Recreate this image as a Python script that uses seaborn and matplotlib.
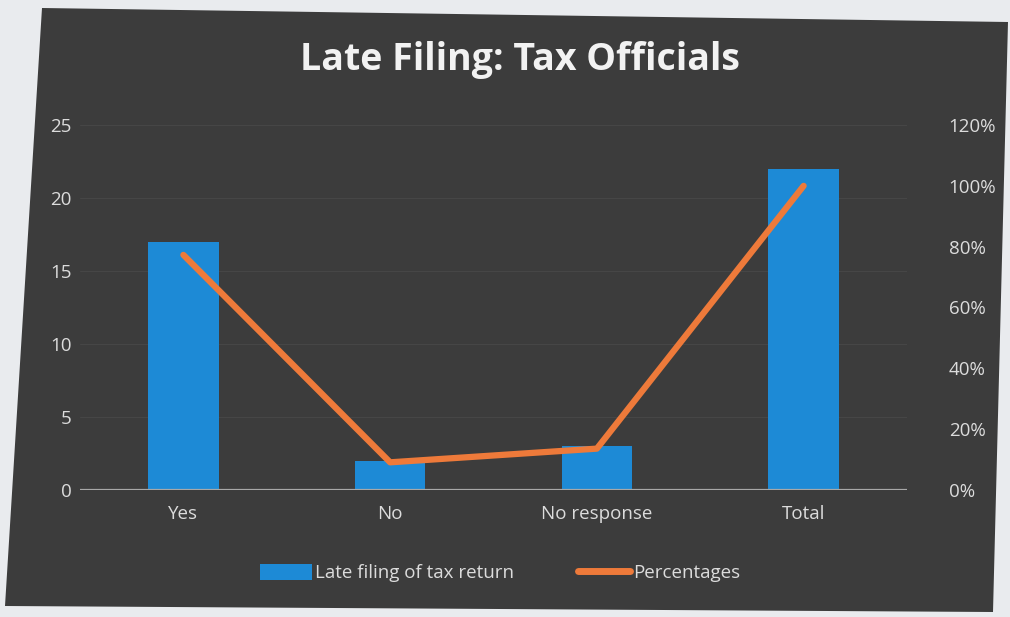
import numpy as np
import pandas as pd
import seaborn as sns
import matplotlib.pyplot as plt
from matplotlib.patches import Polygon, Patch
from matplotlib.lines import Line2D
from matplotlib.ticker import FuncFormatter

categories = ["Yes", "No", "No response", "Total"]
late_filing = [17, 2, 3, 22]
percentages = [77.3, 9.1, 13.6, 100.0]

BG = "#3c3c3c"
BLUE = "#1d8ad6"
ORANGE = "#ee7a3a"
TEXT = "#dcdcdc"

sns.set_theme(style="dark")
plt.rcParams["font.family"] = ["Open Sans", "DejaVu Sans"]

fig = plt.figure(figsize=(10.10, 6.17), dpi=100, facecolor="#e9ebee")

# dark panel of the printed chart, behind everything
W, H = 1010.0, 617.0
corners = [(42, 8), (1008, 22), (993, 612), (5, 606)]
panel = Polygon([(x / W, 1 - y / H) for x, y in corners], closed=True,
                transform=fig.transFigure, facecolor=BG, edgecolor="none", zorder=-10)
fig.patches.append(panel)

ax = fig.add_axes([80 / W, 1 - 490 / H, (907 - 80) / W, (490 - 125) / H])
ax.set_facecolor("none")

df = pd.DataFrame({"category": categories, "count": late_filing, "pct": percentages})

sns.barplot(data=df, x="category", y="count", ax=ax, color=BLUE, width=0.34,
            saturation=1, edgecolor="none", linewidth=0, zorder=2)
ax.set_ylim(0, 25)
ax.set_yticks(np.arange(0, 26, 5))
ax.set_xlim(-0.5, len(categories) - 0.5)
ax.grid(axis="y", color="#464646", linewidth=0.8, zorder=0)
ax.grid(axis="x", visible=False)
for s in ax.spines.values():
    s.set_visible(False)
ax.axhline(0, color="#a8a8a8", linewidth=1.6, zorder=3)
ax.set_xlabel("")
ax.set_ylabel("")
ax.tick_params(axis="y", colors=TEXT, labelsize=13.5, length=0, pad=6)
ax.tick_params(axis="x", colors=TEXT, labelsize=13.5, length=0, pad=11)

ax2 = ax.twinx()
ax2.set_facecolor("none")
sns.lineplot(x=np.arange(len(categories)), y=df["pct"], ax=ax2, color=ORANGE,
             linewidth=4.5, zorder=4)
ax2.set_ylim(0, 120)
ax2.set_yticks(np.arange(0, 121, 20))
ax2.yaxis.set_major_formatter(FuncFormatter(lambda v, p: f"{v:.0f}%"))
ax2.grid(False)
for s in ax2.spines.values():
    s.set_visible(False)
ax2.set_ylabel("")
ax2.tick_params(axis="y", colors=TEXT, labelsize=13.5, length=0, pad=30)

fig.text(520 / W, 1 - 60 / H, "Late Filing: Tax Officials", ha="center", va="center",
         color="#f2f2f2", fontsize=27, fontweight="bold")

handles = [Patch(facecolor=BLUE, edgecolor="none"),
           Line2D([0], [0], color=ORANGE, linewidth=5)]
fig.legend(handles, ["Late filing of tax return", "Percentages"],
           loc="center", bbox_to_anchor=(500 / W, 1 - 573 / H), ncol=2,
           frameon=False, fontsize=13.5, labelcolor=TEXT, handlelength=2.8,
           handleheight=1.0, handletextpad=0.15, columnspacing=3.4)

fig.savefig("out.png", dpi=100, facecolor=fig.get_facecolor())
